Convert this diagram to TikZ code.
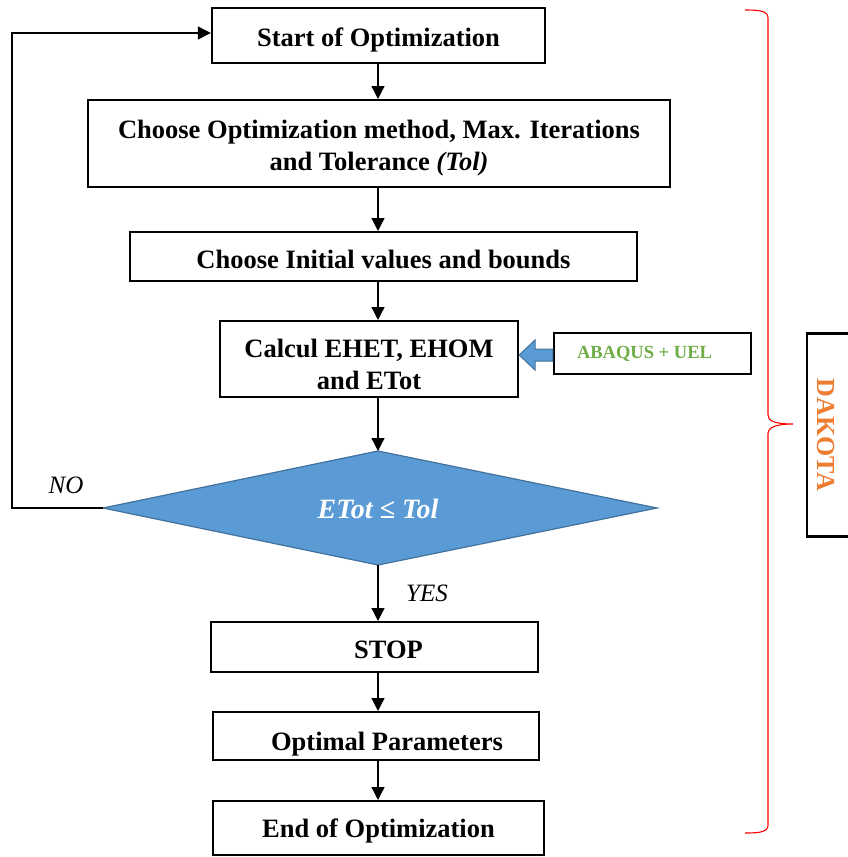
\documentclass[tikz,border=0pt]{standalone}
\usepackage{fontspec}
\setmainfont{Liberation Serif}
\usetikzlibrary{arrows.meta}
\definecolor{diafill}{HTML}{5B9BD5}
\definecolor{diaedge}{HTML}{41719C}
\definecolor{abaqgreen}{HTML}{70AD47}
\definecolor{dakorange}{HTML}{ED7D31}
% lower a line of box text below the box centre, keeping its size
\newcommand{\lowered}[2][4pt]{\raisebox{-#1}[\height][\depth]{#2}}
\begin{document}
\begin{tikzpicture}[x=1pt,y=-1pt,
  stepbox/.style={draw=black,line width=2.4pt,fill=white,inner sep=0pt,
    font=\fontsize{26.5}{32}\selectfont\bfseries,align=center},
  flow/.style={line width=1.3pt,-{Triangle[length=13pt,width=13pt]}},
  lbl/.style={font=\fontsize{25}{28}\selectfont\itshape}]
\useasboundingbox (0,0) rectangle (848,857);

% main column of steps
\node[stepbox,minimum width=333pt,minimum height=55pt] (start) at (378.5,35.5) {\lowered{Start of Optimization}};
\node[stepbox,minimum width=582pt,minimum height=87pt] (method) at (379,143.5)
  {\lowered[5pt]{Choose Optimization method, Max. Iterations}\\\lowered[5pt]{and Tolerance \textit{(Tol)}}};
\node[stepbox,minimum width=507pt,minimum height=49pt] (init) at (383.5,256.5) {\lowered[3pt]{Choose Initial values and bounds}};
\node[stepbox,minimum width=298pt,minimum height=76pt] (calc) at (369,359) {\lowered[5pt]{Calcul EHET, EHOM}\\\lowered[5pt]{and ETot}};

% external solver
\node[stepbox,minimum width=197pt,minimum height=41pt,font=\fontsize{18.5}{22}\selectfont\bfseries,
  text=abaqgreen] (abaq) at (652.5,353.5) {\hspace*{-16pt}ABAQUS + UEL};
\draw[fill=diafill,draw=diaedge,line width=1pt]
  (abaq.west |- 0,349) -- (535,349) -- (535,340) -- (calc.east |- 0,355) -- (535,370) -- (535,361) -- (abaq.west |- 0,361) -- cycle;

% decision
\path[fill=diafill,draw=diaedge,line width=1.2pt] (103,508) coordinate (dl) -- (378,451) coordinate (dt)
  -- (657,508) coordinate (dr) -- (378,565) coordinate (db) -- cycle;
\node[font=\fontsize{28}{32}\selectfont\bfseries\itshape,text=white] (cond) at (378,509) {ETot ≤ Tol};

% final steps
\node[stepbox,minimum width=327pt,minimum height=50pt] (stop) at (374.5,647) {\lowered[3pt]{\hspace*{28pt}STOP}};
\node[stepbox,minimum width=326pt,minimum height=48pt] (optp) at (376,736)
  {\raisebox{-14pt}[0pt][0pt]{\hspace*{22pt}Optimal Parameters}};
\node[stepbox,minimum width=331pt,minimum height=54pt] (finish) at (378.5,828) {\lowered[3pt]{End of Optimization}};

% connectors
\draw[flow] (378,63) -- (378,99);
\draw[flow] (378,187) -- (378,231);
\draw[flow] (378,281) -- (378,320);
\draw[flow] (378,397) -- (dt);
\draw[flow] (db) -- (378,621);
\draw[flow] (378,672) -- (378,711);
\draw[flow] (378,760) -- (378,800);
\coordinate (lb) at (12,508);
\coordinate (lt) at (12,33);
\draw[flow] (dl) -- (lb) -- (lt) -- (start.west |- lt);

\node[lbl] (nolbl) at (66,485) {NO};
\node[lbl] (yeslbl) at (427,593) {YES};

% brace grouping the optimisation loop
\draw[red,line width=1.1pt] (745,10) .. controls (760,10) and (768,11) .. (768,18)
  -- (768,415) .. controls (768,421) and (775,424) .. (793,424)
  .. controls (775,424) and (768,428) .. (768,433)
  -- (768,825) .. controls (768,832) and (760,833) .. (745,833);

\node[draw=black,line width=2.4pt,minimum width=60pt,minimum height=203pt,inner sep=0pt] (dak) at (837,435) {};
\node[rotate=-90,text=dakorange,font=\fontsize{26}{30}\selectfont\bfseries] (daktext) at (826,435) {DAKOTA};
\end{tikzpicture}
\end{document}
